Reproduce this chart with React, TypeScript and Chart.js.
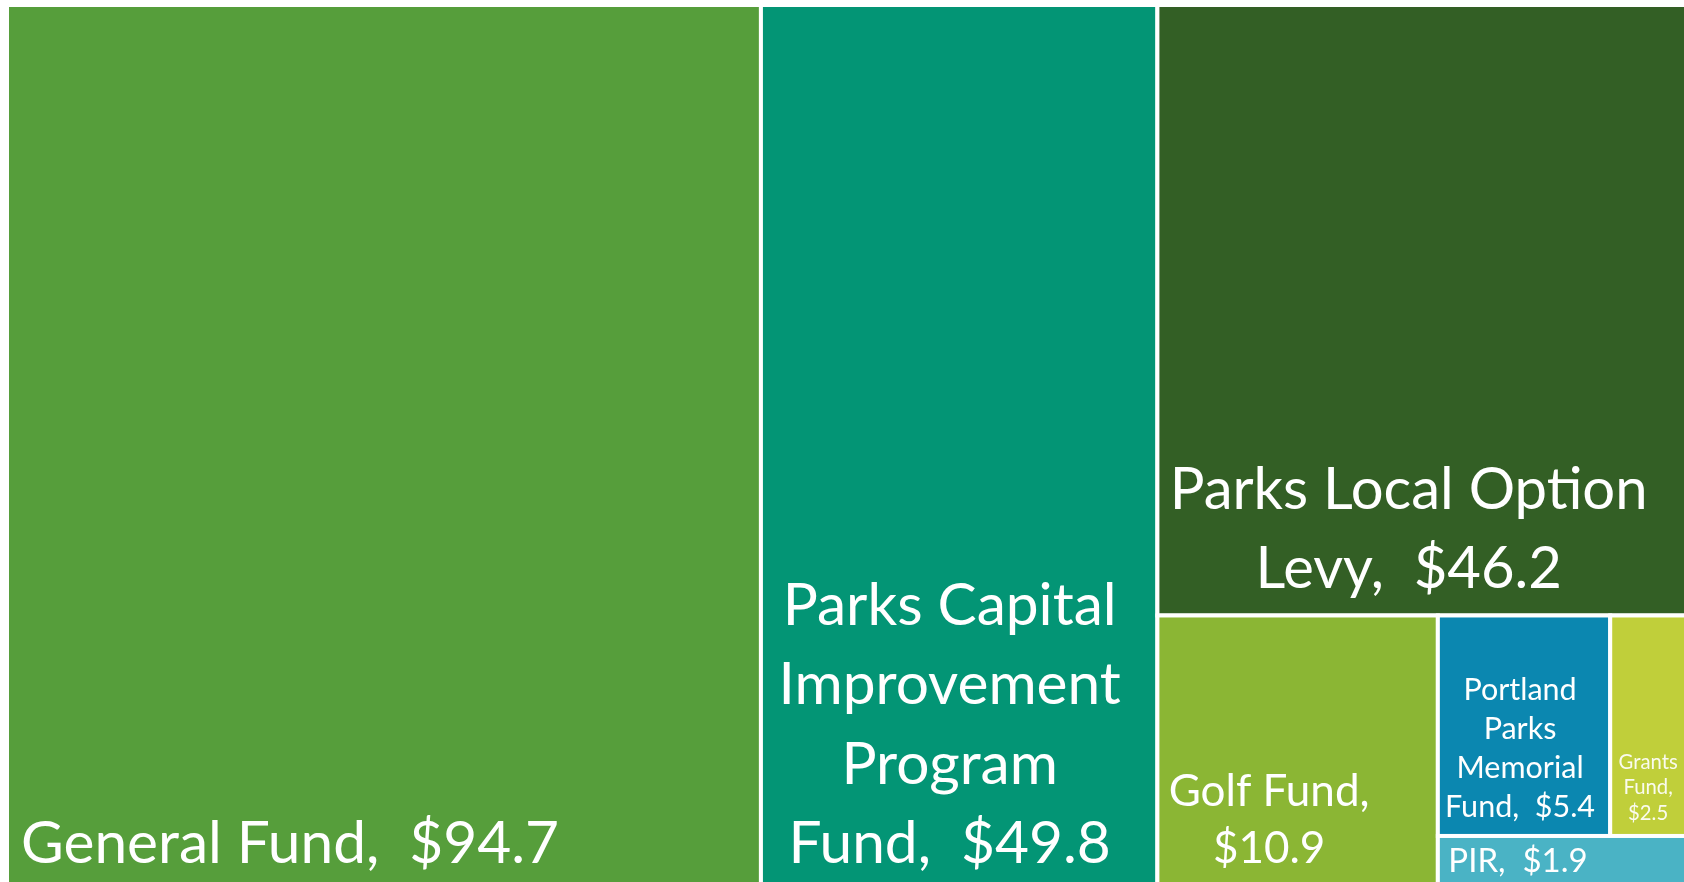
import React, { useEffect, useRef } from 'react';
import { Chart, registerables } from 'chart.js';

Chart.register(...registerables);

// ---- data ----
const funds = [
  'General Fund',
  'Parks Capital Improvement Program Fund',
  'Parks Local Option Levy',
  'Golf Fund',
  'Portland Parks Memorial Fund',
  'Grants Fund',
  'PIR',
];
const amounts = [94.7, 49.8, 46.2, 10.9, 5.4, 2.5, 1.9];
const colors = ['#569E3B', '#039575', '#335F25', '#8BB634', '#0B87B0', '#C0CF3A', '#4AB3C5'];
// label text per cell, "{v}" is replaced by the amount
const labelLines = [
  ['General Fund,  {v}'],
  ['Parks Capital', 'Improvement', 'Program', 'Fund,  {v}'],
  ['Parks Local Option', 'Levy,  {v}'],
  ['Golf Fund,', '{v}'],
  ['Portland', 'Parks', 'Memorial', 'Fund,  {v}'],
  ['Grants', 'Fund,', '{v}'],
  ['PIR,  {v}'],
];

// ---- treemap structure (split directions only; sizes come from amounts) ----
type TNode = number | { dir: 'row' | 'col'; children: TNode[] };
const layoutTree: TNode = {
  dir: 'row',
  children: [
    0,
    1,
    {
      dir: 'col',
      children: [
        2,
        {
          dir: 'row',
          children: [3, { dir: 'col', children: [{ dir: 'row', children: [4, 5] }, 6] }],
        },
      ],
    },
  ],
};

// ---- label styles ----
const labelStyles = [
  { size: 58.6, align: 'left', dx: 14, dy: 26, lh: 79.5, alpha: 1 },
  { size: 58.6, align: 'center', dx: -9.5, dy: 26, lh: 79.5, alpha: 1 },
  { size: 58, align: 'center', dx: -15, dy: 27.5, lh: 79, alpha: 1 },
  { size: 44, align: 'center', dx: -28.5, dy: 26, lh: 57, alpha: 1 },
  { size: 30.5, align: 'center', dx: -4, dy: 19, lh: 39, alpha: 1 },
  { size: 20.3, align: 'center', dx: -2, dy: 16, lh: 25.5, alpha: 0.92 },
  { size: 33, align: 'left', dx: 10.5, dy: 17, lh: 40, alpha: 1 },
];

type Rect = { x0: number; y0: number; x1: number; y1: number };

function sumNode(n: TNode): number {
  return typeof n === 'number' ? amounts[n] : n.children.reduce((s, c) => s + sumNode(c), 0);
}

function layoutNode(n: TNode, x0: number, y0: number, x1: number, y1: number, out: Rect[]) {
  if (typeof n === 'number') {
    out[n] = { x0, y0, x1, y1 };
    return;
  }
  const total = sumNode(n);
  let acc = 0;
  for (const c of n.children) {
    const v = sumNode(c);
    const a = acc / total;
    const b = (acc + v) / total;
    acc += v;
    if (n.dir === 'row') layoutNode(c, x0 + (x1 - x0) * a, y0, x0 + (x1 - x0) * b, y1, out);
    else layoutNode(c, x0, y0 + (y1 - y0) * a, x1, y0 + (y1 - y0) * b, out);
  }
}

const cells: Rect[] = [];
layoutNode(layoutTree, 0, 0, 1, 1, cells);

const FONT = 'Lato, "Open Sans", sans-serif';

const treemapPlugin = {
  id: 'treemapCells',
  afterDatasetsDraw(chart: any) {
    const ctx = chart.ctx as CanvasRenderingContext2D;
    const xs = chart.scales.x;
    const ys = chart.scales.y;
    ctx.save();
    cells.forEach((c, i) => {
      const l = xs.getPixelForValue(c.x0);
      const r = xs.getPixelForValue(c.x1);
      const t = ys.getPixelForValue(c.y0);
      const b = ys.getPixelForValue(c.y1);
      ctx.fillStyle = colors[i];
      ctx.fillRect(l, t, r - l, b - t);
      ctx.strokeStyle = '#FFFFFF';
      ctx.lineWidth = 4;
      ctx.strokeRect(l, t, r - l, b - t);
    });
    cells.forEach((c, i) => {
      const l = xs.getPixelForValue(c.x0);
      const r = xs.getPixelForValue(c.x1);
      const b = ys.getPixelForValue(c.y1);
      const st = labelStyles[i];
      const val = '$' + amounts[i].toFixed(1);
      const lines = labelLines[i].map((s) => s.replace('{v}', val));
      ctx.font = `${st.size}px ${FONT}`;
      ctx.fillStyle = `rgba(255,255,255,${st.alpha})`;
      ctx.textBaseline = 'alphabetic';
      ctx.textAlign = st.align as CanvasTextAlign;
      const x = st.align === 'left' ? l + st.dx : (l + r) / 2 + st.dx;
      const n = lines.length;
      lines.forEach((ln, k) => {
        const y = b - st.dy - (n - 1 - k) * st.lh;
        ctx.fillText(ln, x, y);
      });
    });
    ctx.restore();
  },
};

export default function App() {
  const ref = useRef<HTMLCanvasElement | null>(null);
  useEffect(() => {
    if (!ref.current) return;
    const chart = new Chart(ref.current, {
      type: 'scatter',
      data: {
        datasets: [
          {
            label: 'Funds',
            data: cells.map((c, i) => ({ x: (c.x0 + c.x1) / 2, y: (c.y0 + c.y1) / 2, name: funds[i] })) as any,
            pointRadius: 0,
            pointHoverRadius: 0,
          },
        ],
      },
      options: {
        animation: false,
        responsive: true,
        maintainAspectRatio: false,
        layout: { padding: { left: 7, top: 5, right: 0, bottom: 0 } },
        scales: {
          x: { type: 'linear', min: 0, max: 1, display: false },
          y: { type: 'linear', min: 0, max: 1, reverse: true, display: false },
        },
        plugins: { legend: { display: false }, tooltip: { enabled: false } },
        events: [],
      },
      plugins: [treemapPlugin],
    });
    return () => chart.destroy();
  }, []);
  return (
    <div style={{ position: 'fixed', left: 0, top: 0, width: 1690, height: 889, background: '#FFFFFF' }}>
      <canvas ref={ref} />
    </div>
  );
}
